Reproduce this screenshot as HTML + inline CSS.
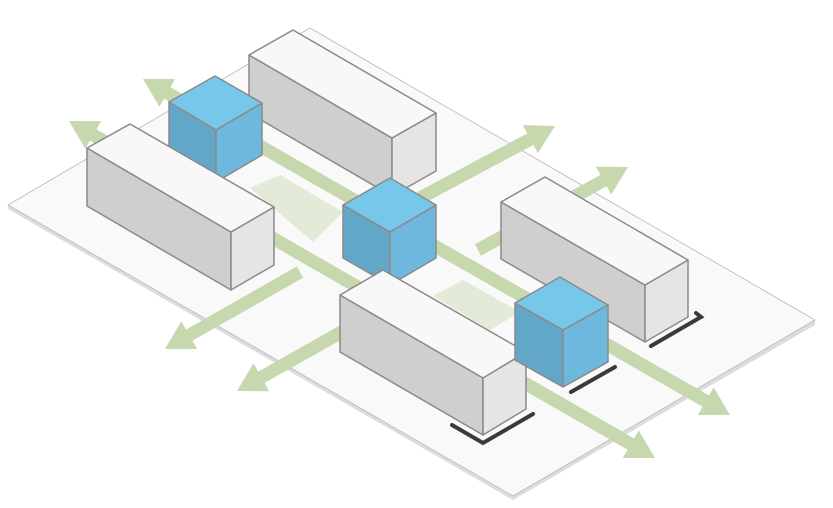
<!DOCTYPE html>
<html><head><meta charset="utf-8"><style>html,body{margin:0;padding:0;background:#fff;width:833px;height:508px;overflow:hidden}</style></head>
<body>
<svg id="s" width="833" height="508" viewBox="0 0 833 508" xmlns="http://www.w3.org/2000/svg">
<polygon points="8,205 310,28 815,320 815,325 513,500 8,209" fill="#dcdcdc"/>
<polygon points="8,205 310,28 815,320 513,496" fill="#f9f9f9" stroke="#b8b8b8" stroke-width="0.8"/>
<polygon points="250,188 280,175 343,212 313,242" fill="#e3ead8"/>
<polygon points="433,296 463,280 520,312 490,330" fill="#e3ead8"/>
<g id="arrows" fill="#c8d8ae"></g>
<g stroke="#3a3a3a" stroke-width="4" fill="none" stroke-linecap="round">
<polyline points="452,425 483,443 533,414"/>
<polyline points="571,392 615,367"/>
<polyline points="651,346 701,317 696,313"/>
</g>
<g id="boxes" stroke="#8a8a8a" stroke-width="1.5" stroke-linejoin="round"></g>
</svg>
<script>
const NS="http://www.w3.org/2000/svg";
function arrow(x1,y1,x2,y2,mode){
  const dx=x2-x1,dy=y2-y1,L=Math.hypot(dx,dy),ux=dx/L,uy=dy/L,nx=-uy,ny=ux;
  const w=6.5,hw=16,hl=28;
  let p=[];
  const hs=(mode==='start'||mode==='both'), he=(mode==='end'||mode==='both');
  // start side
  if(hs){
    const cx=x1+ux*hl,cy=y1+uy*hl;
    p.push([cx-nx*w,cy-ny*w],[cx-nx*hw,cy-ny*hw],[x1,y1],[cx+nx*hw,cy+ny*hw],[cx+nx*w,cy+ny*w]);
  } else {
    p.push([x1-nx*w,y1-ny*w],[x1+nx*w,y1+ny*w]);
  }
  if(he){
    const cx=x2-ux*hl,cy=y2-uy*hl;
    p.push([cx+nx*w,cy+ny*w],[cx+nx*hw,cy+ny*hw],[x2,y2],[cx-nx*hw,cy-ny*hw],[cx-nx*w,cy-ny*w]);
  } else {
    p.push([x2+nx*w,y2+ny*w],[x2-nx*w,y2-ny*w]);
  }
  const e=document.createElementNS(NS,'polygon');
  e.setAttribute('points',p.map(q=>q[0].toFixed(1)+','+q[1].toFixed(1)).join(' '));
  document.getElementById('arrows').appendChild(e);
}
arrow(143,79,730,415,'both');
arrow(69,121,655,458,'both');
arrow(165,349,300,272,'start');
arrow(420,198,555,126,'end');
arrow(237,391,345,330,'start');
arrow(478,250,628,167,'end');
function box(l,t,r,f,h,ct,cl,cr){
  const g=document.getElementById('boxes');
  const poly=(pts,c)=>{const e=document.createElementNS(NS,'polygon');e.setAttribute('points',pts.map(q=>q.join(',')).join(' '));e.setAttribute('fill',c);g.appendChild(e);};
  poly([l,f,[f[0],f[1]+h],[l[0],l[1]+h]],cl);
  poly([f,r,[r[0],r[1]+h],[f[0],f[1]+h]],cr);
  poly([l,t,r,f],ct);
}
const W=['#f8f8f8','#d0cfd0','#e6e5e6'], B=['#76c7ea','#62a7c7','#6db8dc'];
box([249,55],[293,30],[436,113],[392,138],58,...W);
box([169,102],[215,76],[262,103],[216,130],52,...B);
box([87,148],[130,124],[274,207],[231,232],58,...W);
box([343,205],[390,178],[436,205],[390,232],53,...B);
box([501,202],[545,177],[688,260],[645,285],57,...W);
box([340,295],[383,270],[526,352],[483,378],57,...W);
box([515,303],[560,277],[608,305],[563,330],57,...B);
</script>
</body></html>
